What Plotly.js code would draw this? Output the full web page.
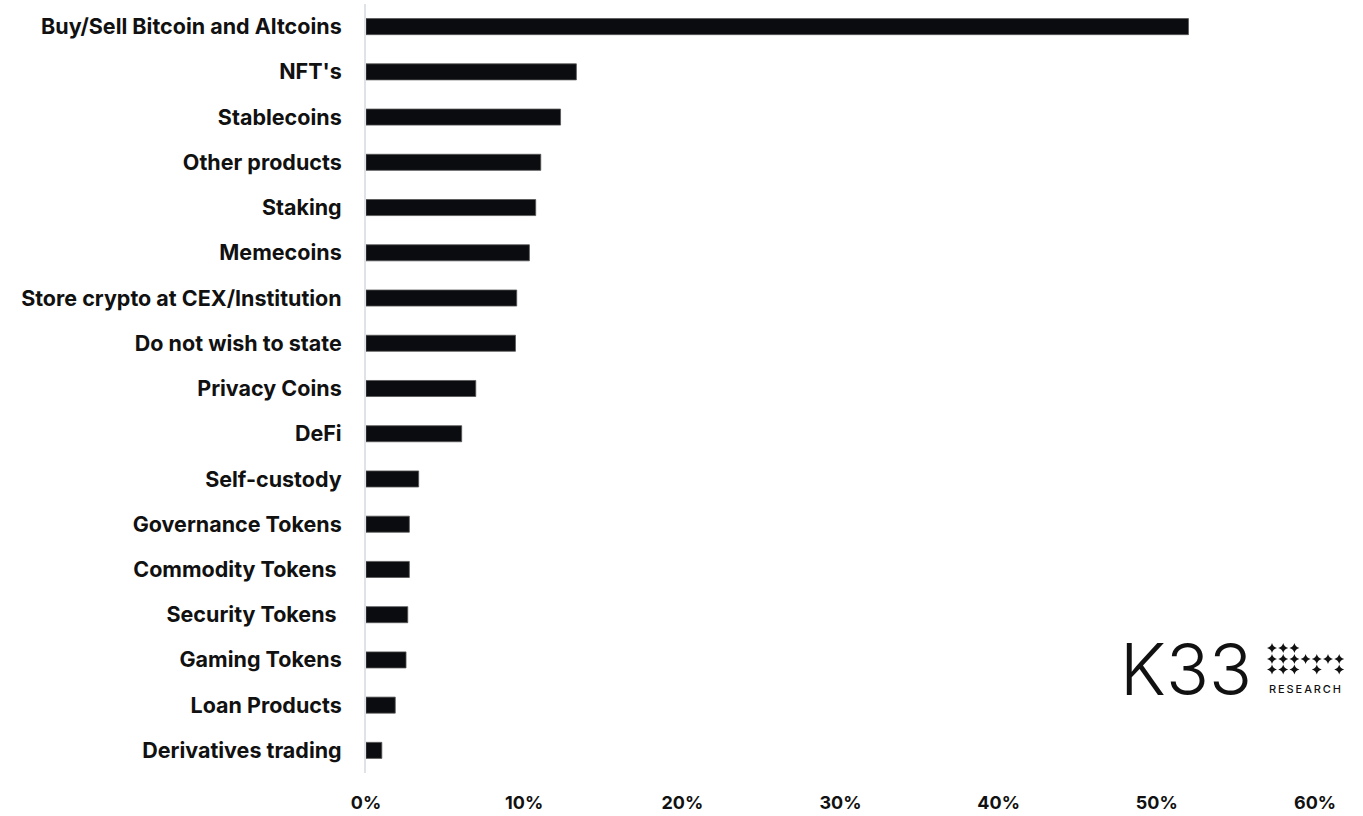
<!DOCTYPE html>
<html>
<head>
<meta charset="utf-8">
<script src="https://cdn.plot.ly/plotly-3.0.1.min.js"></script>
<style>
  html, body { margin: 0; padding: 0; background: #ffffff; }
  #chart { width: 1363px; height: 816px; }
</style>
</head>
<body>
<div id="chart"></div>
<script>
const categories = [
  "Buy/Sell Bitcoin and Altcoins",
  "NFT's",
  "Stablecoins",
  "Other products",
  "Staking",
  "Memecoins",
  "Store crypto at CEX/Institution",
  "Do not wish to state",
  "Privacy Coins",
  "DeFi",
  "Self-custody",
  "Governance Tokens",
  "Commodity Tokens\u00a0",
  "Security Tokens\u00a0",
  "Gaming Tokens",
  "Loan Products",
  "Derivatives trading"
];
const shares = [52.0, 13.3, 12.3, 11.05, 10.73, 10.33, 9.53, 9.45, 6.94, 6.05, 3.33, 2.74, 2.74, 2.64, 2.53, 1.85, 1.0];
const xTickValues = [0, 10, 20, 30, 40, 50, 60];
const xTickLabels = ["0%", "10%", "20%", "30%", "40%", "50%", "60%"];

const W = 1363, H = 816;
const M = { l: 366, r: 48, t: 4, b: 43 };
const plotW = W - M.l - M.r, plotH = H - M.t - M.b;
const px = x => (x - M.l) / plotW;
const py = y => (H - M.b - y) / plotH;

const FONT = "Inter, 'Noto Sans', sans-serif";

const trace = {
  type: "bar",
  orientation: "h",
  y: categories,
  x: shares,
  width: 0.355,
  marker: { color: "#0b0c0f", line: { color: "#555555", width: 0.8 } },
  hoverinfo: "x+y"
};

// K33 logo decoration
const shapes = [];
const rows = [[0,1,2],[0,1,2,3,4,5,6],[0,1,2,4,6]];
const rowY = [648, 659, 669.5];
const r = 5.0, c = 0.9;
const star = `M 0,${r} Q ${c},${c} ${r},0 Q ${c},${-c} 0,${-r} Q ${-c},${-c} ${-r},0 Q ${-c},${c} 0,${r} Z`;
rows.forEach((cols, ri) => {
  cols.forEach(ci => {
    shapes.push({
      type: "path", xref: "paper", yref: "paper",
      xsizemode: "pixel", ysizemode: "pixel",
      xanchor: px(1272 + ci * 11.2), yanchor: py(rowY[ri]),
      path: star, fillcolor: "#111111", line: { width: 0 }
    });
  });
});

const layout = {
  width: W, height: H,
  margin: M,
  paper_bgcolor: "#ffffff",
  plot_bgcolor: "#ffffff",
  showlegend: false,
  font: { family: FONT, color: "#111111" },
  xaxis: {
    range: [0, 60],
    tickvals: xTickValues,
    ticktext: xTickLabels,
    showgrid: false, zeroline: false, showline: false,
    ticks: "",
    ticklabelstandoff: 17,
    tickfont: { family: FONT, size: 18, weight: 700, color: "#111111" },
    fixedrange: true
  },
  yaxis: {
    autorange: "reversed",
    showgrid: false, zeroline: false,
    showline: true, linecolor: "#dfe2e7", linewidth: 2,
    ticks: "",
    ticklabelstandoff: 18,
    tickfont: { family: FONT, size: 21.5, weight: 700, color: "#111111" },
    fixedrange: true
  },
  shapes: shapes,
  annotations: [
    {
      xref: "paper", yref: "paper", x: px(1118), y: py(669),
      xanchor: "left", yanchor: "middle", showarrow: false,
      text: "K33",
      font: { family: FONT, size: 71, weight: 300, color: "#111111" }
    },
    {
      xref: "paper", yref: "paper", x: px(1305), y: py(689),
      xanchor: "center", yanchor: "middle", showarrow: false,
      text: "R\u2009E\u2009S\u2009E\u2009A\u2009R\u2009C\u2009H",
      font: { family: FONT, size: 11, weight: 500, color: "#111111" }
    }
  ]
};

Plotly.newPlot("chart", [trace], layout, { displayModeBar: false, staticPlot: true });
</script>
</body>
</html>
